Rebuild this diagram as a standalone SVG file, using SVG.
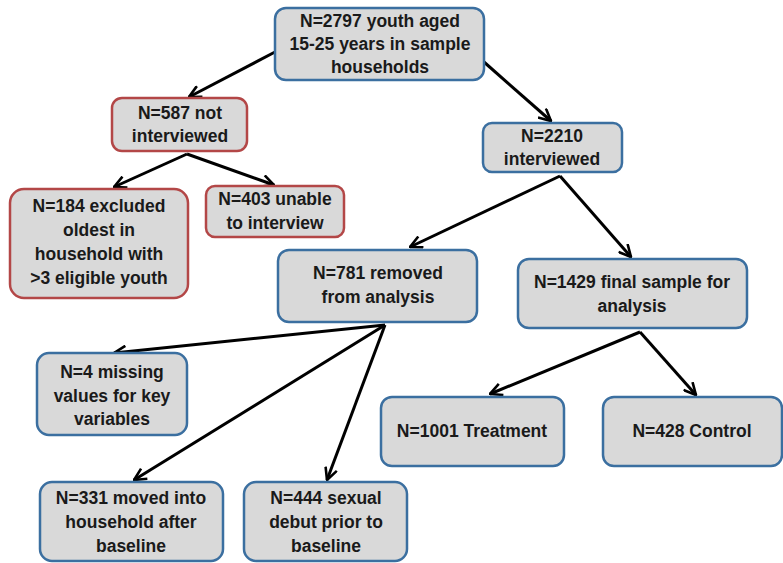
<svg xmlns="http://www.w3.org/2000/svg" width="783" height="563" viewBox="0 0 783 563">
<defs>
<marker id="ah" viewBox="0 0 14 14" refX="13" refY="7" markerWidth="14" markerHeight="14" markerUnits="userSpaceOnUse" orient="auto">
<polyline points="1,1 13,7 1,13" fill="none" stroke="#000" stroke-width="2.6" stroke-linejoin="miter"/>
</marker>
<style>
.b{fill:#d9d9d9;stroke:#3b6fa0;stroke-width:2.5}
.r{fill:#d9d9d9;stroke:#b34747;stroke-width:2.5}
text{font-family:"Liberation Sans",Arial,sans-serif;font-weight:bold;font-size:17.5px;fill:#1a1a1a;text-anchor:middle}
.c line{stroke:#000;stroke-width:3;marker-end:url(#ah)}
</style>
</defs>
<rect width="783" height="563" fill="#fff"/>
<g class="c" id="connectors">
<line x1="275" y1="52" x2="189" y2="97"/>
<line x1="484" y1="62" x2="551" y2="121"/>
<line x1="187" y1="154" x2="114" y2="187"/>
<line x1="187" y1="154" x2="274" y2="185"/>
<line x1="560" y1="176" x2="410" y2="247"/>
<line x1="560" y1="176" x2="631" y2="257"/>
<line x1="385" y1="325" x2="114" y2="353"/>
<line x1="385" y1="325" x2="134" y2="480"/>
<line x1="385" y1="325" x2="327" y2="480"/>
<line x1="640" y1="332" x2="490" y2="394"/>
<line x1="640" y1="332" x2="696" y2="395"/>
</g>
<g id="n2797"><rect class="b" x="275" y="8" width="209" height="72" rx="11"/>
<text x="380" y="27">N=2797 youth aged</text><text x="380" y="50">15-25 years in sample</text><text x="380" y="73">households</text></g>
<g id="n587"><rect class="r" x="112" y="98" width="135" height="53" rx="10"/>
<text x="180" y="119">N=587 not</text><text x="180" y="142">interviewed</text></g>
<g id="n184"><rect class="r" x="10" y="189" width="178" height="109" rx="14"/>
<text x="99" y="212">N=184 excluded</text><text x="99" y="236">oldest in</text><text x="99" y="260">household with</text><text x="99" y="284">&gt;3 eligible youth</text></g>
<g id="n403"><rect class="r" x="206" y="186" width="138" height="51" rx="9"/>
<text x="275" y="205">N=403 unable</text><text x="275" y="229">to interview</text></g>
<g id="n2210"><rect class="b" x="483" y="123" width="139" height="49" rx="9"/>
<text x="552" y="142">N=2210</text><text x="552" y="165">interviewed</text></g>
<g id="n781"><rect class="b" x="278" y="250" width="199" height="72" rx="11"/>
<text x="378" y="279">N=781 removed</text><text x="378" y="303">from analysis</text></g>
<g id="n1429"><rect class="b" x="518" y="259" width="229" height="69" rx="11"/>
<text x="632" y="288">N=1429 final sample for</text><text x="632" y="312">analysis</text></g>
<g id="n4"><rect class="b" x="37" y="353" width="150" height="82" rx="12"/>
<text x="112" y="378">N=4 missing</text><text x="112" y="402">values for key</text><text x="112" y="425">variables</text></g>
<g id="n331"><rect class="b" x="40" y="482" width="183" height="79" rx="12"/>
<text x="131" y="504">N=331 moved into</text><text x="131" y="528">household after</text><text x="131" y="552">baseline</text></g>
<g id="n444"><rect class="b" x="244" y="482" width="163" height="79" rx="12"/>
<text x="326" y="504">N=444 sexual</text><text x="326" y="528">debut prior to</text><text x="326" y="552">baseline</text></g>
<g id="n1001"><rect class="b" x="381" y="397" width="183" height="69" rx="11"/>
<text x="472" y="437">N=1001 Treatment</text></g>
<g id="n428"><rect class="b" x="603" y="397" width="179" height="69" rx="11"/>
<text x="692" y="437">N=428 Control</text></g>
</svg>
